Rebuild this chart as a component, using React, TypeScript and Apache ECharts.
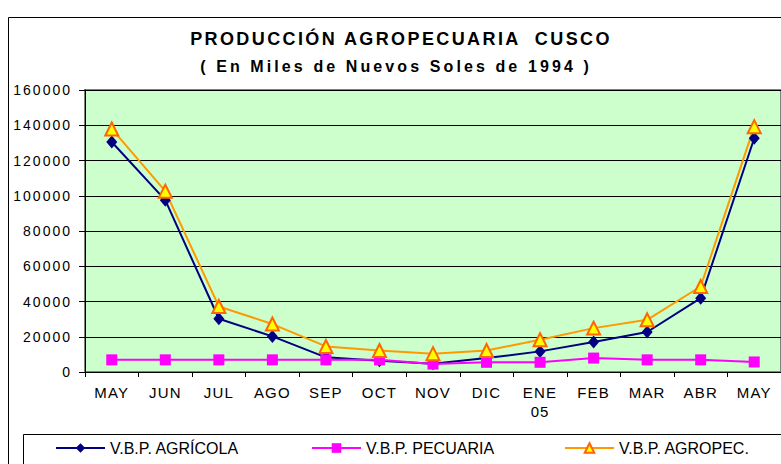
import React, { useEffect, useRef } from 'react';
import * as echarts from 'echarts';

const categories = ['MAY', 'JUN', 'JUL', 'AGO', 'SEP', 'OCT', 'NOV', 'DIC', 'ENE\n05', 'FEB', 'MAR', 'ABR', 'MAY'];
const agricola = [130500, 97500, 30200, 20200, 8300, 6400, 4700, 7900, 11700, 17000, 22700, 41900, 132600];
const pecuaria = [6900, 6900, 6900, 6900, 6900, 6900, 4500, 5500, 5500, 7900, 6900, 6900, 5700];
const agropec = [137900, 102600, 37200, 27200, 14500, 12200, 10400, 12200, 18300, 24900, 29600, 48500, 139200];
const seriesNames = ['V.B.P. AGRÍCOLA', 'V.B.P. PECUARIA', 'V.B.P. AGROPEC.'];
const titleText = 'PRODUCCIÓN AGROPECUARIA  CUSCO';
const subtitleText = '( En Miles de Nuevos Soles de 1994 )';
const yMin = 0;
const yMax = 160000;
const yInterval = 20000;

const FONT = '"Liberation Sans", Arial, sans-serif';

function applySpacing(root: HTMLElement) {
  root.querySelectorAll('text').forEach((t) => {
    const s = (t.textContent || '').trim();
    let ls = 0;
    if (s.startsWith('PRODUCCI')) ls = 2.4;
    else if (s.startsWith('( En')) ls = 3.1;
    else if (s === '05') ls = 1;
    else if (/^\d+$/.test(s)) ls = 2;
    else if (/^[A-Z]{3}$/.test(s)) ls = 1.2;
    if (ls) {
      (t as SVGTextElement).style.letterSpacing = ls + 'px';
    }
    (t as SVGTextElement).style.whiteSpace = 'pre';
  });
}

export default function App() {
  const ref = useRef<HTMLDivElement>(null);
  useEffect(() => {
    if (!ref.current) return;
    const el = ref.current;
    const chart = echarts.init(el, null, { renderer: 'svg' });
    const legendLefts = [55, 311, 564];
    chart.setOption({
      animation: false,
      backgroundColor: '#ffffff',
      graphic: [
        {
          type: 'rect', z: -10, silent: true,
          shape: { x: 8.5, y: 17.5, width: 800, height: 500 },
          style: { fill: 'none', stroke: '#000000', lineWidth: 1 },
        },
        {
          type: 'rect', z: -10, silent: true,
          shape: { x: 23.5, y: 434.5, width: 800, height: 100 },
          style: { fill: 'none', stroke: '#000000', lineWidth: 1 },
        },
        {
          type: 'text', x: 401, y: 39,
          style: {
            text: titleText, font: `bold 18px ${FONT}`, fill: '#000000',
            textAlign: 'center', textVerticalAlign: 'middle', verticalAlign: 'middle',
          },
        },
        {
          type: 'text', x: 396, y: 66,
          style: {
            text: subtitleText, font: `bold 16px ${FONT}`, fill: '#000000',
            textAlign: 'center', textVerticalAlign: 'middle', verticalAlign: 'middle',
          },
        },
      ],
      grid: {
        left: 85, top: 90, right: -1, bottom: 92,
        show: true, backgroundColor: '#CCFFCC', borderColor: '#808080', borderWidth: 2,
      },
      legend: seriesNames.map((n, i) => ({
        data: [n], left: legendLefts[i], top: 440, padding: 0,
        itemWidth: 49, itemHeight: 12, itemGap: 0,
        textStyle: { fontSize: 16, fontFamily: FONT, color: '#000000' },
      })),
      xAxis: {
        type: 'category', data: categories, boundaryGap: true,
        axisLine: { lineStyle: { color: '#000000', width: 1 } },
        axisTick: { show: true, length: 5, lineStyle: { color: '#000000' } },
        axisLabel: { color: '#000000', fontSize: 15, fontFamily: FONT, margin: 11, lineHeight: 19, interval: 0 },
        splitLine: { show: false },
      },
      yAxis: {
        type: 'value', min: yMin, max: yMax, interval: yInterval,
        axisLine: { show: true, lineStyle: { color: '#000000', width: 1 } },
        axisTick: { show: true, length: 6, lineStyle: { color: '#000000' } },
        axisLabel: {
          color: '#000000', fontSize: 14, fontFamily: FONT, margin: 13,
          formatter: (v: number) => String(v),
        },
        splitLine: { show: true, lineStyle: { color: '#000000', width: 1 } },
      },
      series: [
        {
          name: seriesNames[0], type: 'line', data: agricola,
          symbol: 'diamond', symbolSize: [11, 13],
          itemStyle: { color: '#000080' },
          lineStyle: { color: '#000080', width: 2 },
        },
        {
          name: seriesNames[1], type: 'line', data: pecuaria,
          symbol: 'rect', symbolSize: 11,
          itemStyle: { color: '#FF00FF' },
          lineStyle: { color: '#FF00FF', width: 2 },
        },
        {
          name: seriesNames[2], type: 'line', data: agropec,
          symbol: 'triangle', symbolSize: 13,
          itemStyle: { color: '#FFFF00', borderColor: '#FF6600', borderWidth: 2 },
          lineStyle: { color: '#FF9900', width: 2 },
        },
      ],
    });
    applySpacing(el);
    chart.on('finished', () => applySpacing(el));
    const tm = setTimeout(() => applySpacing(el), 50);
    return () => {
      clearTimeout(tm);
      chart.dispose();
    };
  }, []);
  return (
    <div
      ref={ref}
      style={{ position: 'absolute', left: 0, top: 0, width: 781, height: 464 }}
    />
  );
}
